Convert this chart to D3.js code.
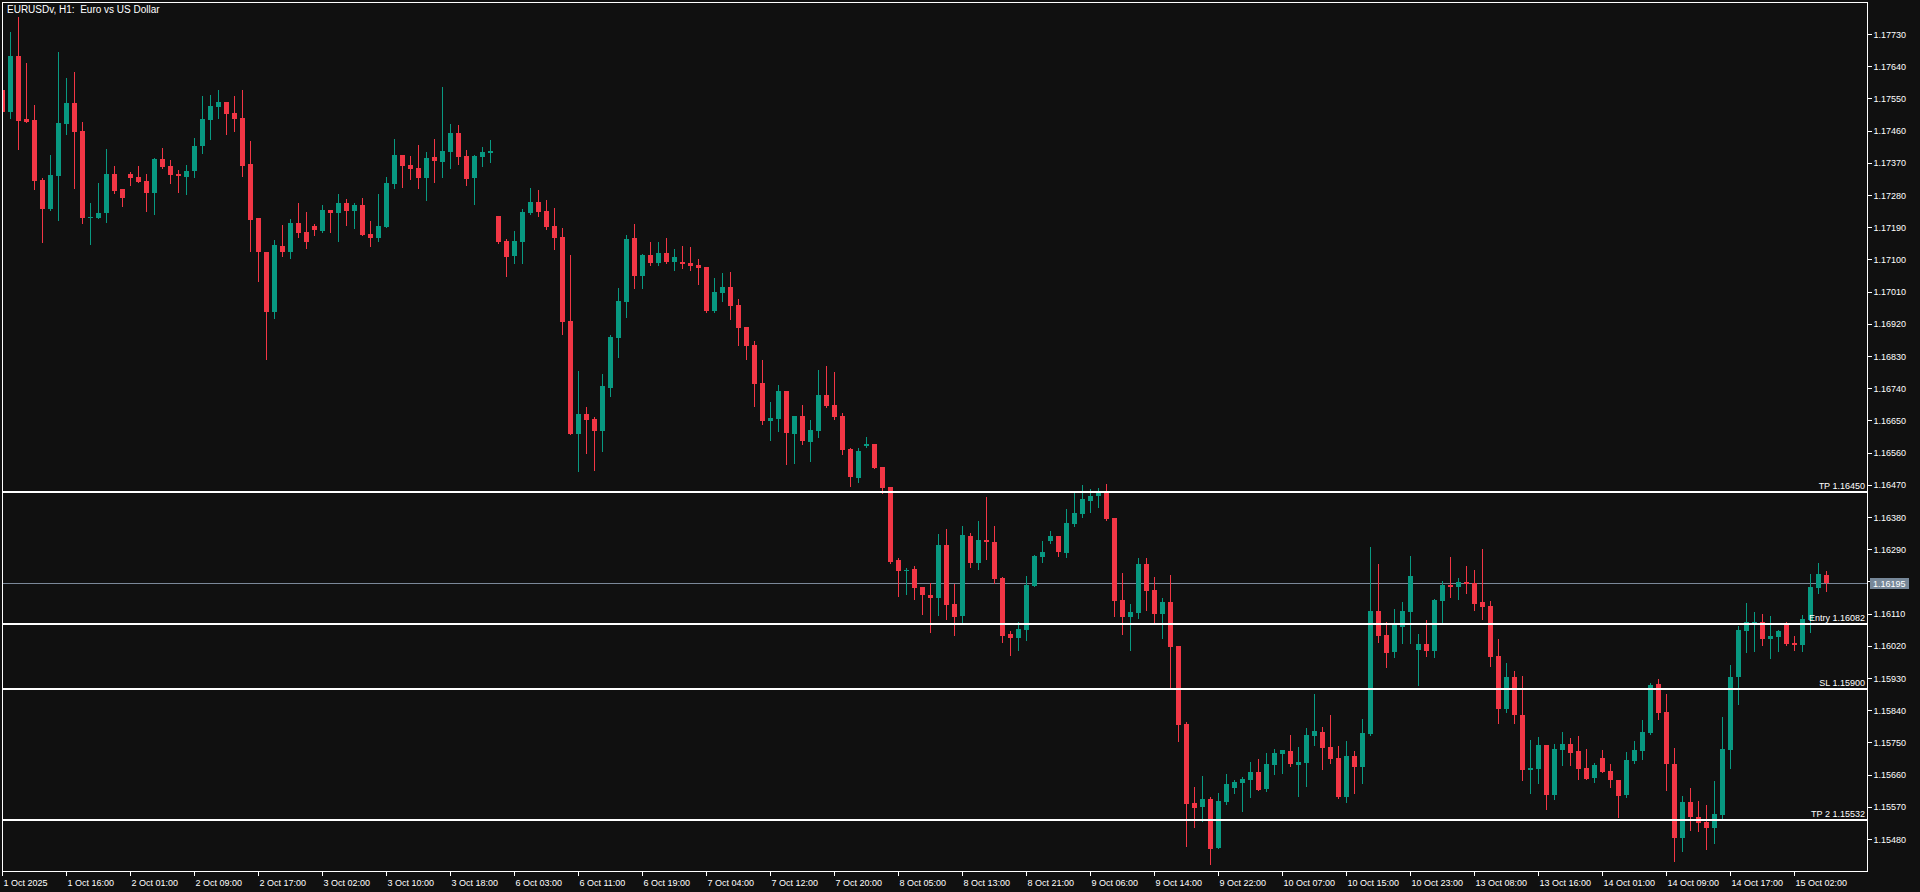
<!DOCTYPE html>
<html><head><meta charset="utf-8">
<script src="https://cdn.jsdelivr.net/npm/d3@7"></script>
<style>html,body{margin:0;padding:0;background:#101010;overflow:hidden}</style>
</head><body>
<script>
const title = "EURUSDv, H1:  Euro vs US Dollar";
const opens = [1.17573,1.17512,1.17668,1.17492,1.17490,1.17322,1.17241,1.17333,1.17478,1.17537,1.17459,1.17218,1.17216,1.17230,1.17339,1.17297,1.17339,1.17330,1.17319,1.17286,1.17381,1.17361,1.17339,1.17330,1.17347,1.17417,1.17490,1.17526,1.17540,1.17509,1.17495,1.17367,1.17216,1.17121,1.16953,1.17137,1.17121,1.17202,1.17177,1.17193,1.17179,1.17238,1.17230,1.17258,1.17235,1.17252,1.17171,1.17160,1.17191,1.17311,1.17392,1.17364,1.17355,1.17327,1.17386,1.17372,1.17400,1.17453,1.17389,1.17327,1.17386,1.17397,1.17221,1.17151,1.17110,1.17149,1.17230,1.17260,1.17235,1.17193,1.17163,1.16928,1.16612,1.16668,1.16654,1.16620,1.16740,1.16880,1.16981,1.17160,1.17054,1.17112,1.17090,1.17118,1.17093,1.17093,1.17090,1.17084,1.17079,1.16956,1.17006,1.17023,1.16973,1.16911,1.16861,1.16755,1.16648,1.16654,1.16732,1.16612,1.16662,1.16590,1.16620,1.16721,1.16693,1.16662,1.16570,1.16489,1.16578,1.16584,1.16520,1.16464,1.16260,1.16232,1.16235,1.16184,1.16162,1.16154,1.16302,1.16137,1.16103,1.16327,1.16251,1.16316,1.16310,1.16210,1.16053,1.16042,1.16064,1.16187,1.16268,1.16313,1.16327,1.16279,1.16360,1.16388,1.16425,1.16439,1.16450,1.16377,1.16148,1.16101,1.16112,1.16249,1.16176,1.16109,1.16142,1.16019,1.15801,1.15581,1.15569,1.15592,1.15455,1.15583,1.15622,1.15636,1.15645,1.15667,1.15620,1.15687,1.15718,1.15726,1.15687,1.15692,1.15768,1.15779,1.15737,1.15706,1.15598,1.15712,1.15681,1.15774,1.16117,1.16050,1.16003,1.16073,1.16115,1.16008,1.16025,1.16005,1.16145,1.16190,1.16184,1.16198,1.16196,1.16142,1.16131,1.15992,1.15843,1.15933,1.15827,1.15673,1.15676,1.15743,1.15603,1.15729,1.15745,1.15726,1.15678,1.15651,1.15706,1.15670,1.15645,1.15603,1.15698,1.15726,1.15776,1.15913,1.15835,1.15690,1.15483,1.15583,1.15542,1.15528,1.15511,1.15547,1.15729,1.15933,1.16061,1.16084,1.16087,1.16039,1.16045,1.16081,1.16028,1.16022,1.16092,1.16182,1.16218];
const highs = [1.17579,1.17736,1.17777,1.17649,1.17531,1.17327,1.17392,1.17680,1.17607,1.17624,1.17484,1.17258,1.17314,1.17408,1.17361,1.17297,1.17344,1.17361,1.17339,1.17383,1.17411,1.17378,1.17350,1.17364,1.17439,1.17557,1.17560,1.17573,1.17540,1.17557,1.17573,1.17431,1.17216,1.17122,1.17154,1.17196,1.17213,1.17258,1.17233,1.17199,1.17252,1.17238,1.17283,1.17269,1.17258,1.17272,1.17207,1.17283,1.17330,1.17436,1.17392,1.17389,1.17420,1.17400,1.17436,1.17582,1.17478,1.17476,1.17406,1.17392,1.17414,1.17434,1.17221,1.17157,1.17179,1.17241,1.17300,1.17294,1.17266,1.17244,1.17188,1.17112,1.16788,1.16687,1.16660,1.16780,1.16889,1.17020,1.17168,1.17199,1.17115,1.17149,1.17149,1.17160,1.17129,1.17137,1.17135,1.17101,1.17079,1.17048,1.17062,1.17065,1.16989,1.16911,1.16872,1.16819,1.16701,1.16749,1.16732,1.16662,1.16693,1.16651,1.16791,1.16802,1.16785,1.16671,1.16573,1.16573,1.16604,1.16584,1.16520,1.16464,1.16265,1.16237,1.16243,1.16184,1.16196,1.16333,1.16346,1.16193,1.16355,1.16335,1.16369,1.16436,1.16355,1.16212,1.16061,1.16087,1.16215,1.16274,1.16313,1.16341,1.16327,1.16402,1.16447,1.16469,1.16458,1.16461,1.16472,1.16377,1.16224,1.16137,1.16265,1.16265,1.16212,1.16154,1.16218,1.16019,1.15807,1.15625,1.15656,1.15597,1.15609,1.15662,1.15645,1.15653,1.15695,1.15704,1.15720,1.15731,1.15729,1.15771,1.15737,1.15790,1.15885,1.15793,1.15827,1.15740,1.15754,1.15726,1.15815,1.16296,1.16249,1.16087,1.16123,1.16142,1.16271,1.16053,1.16092,1.16151,1.16201,1.16268,1.16210,1.16243,1.16232,1.16291,1.16145,1.16039,1.15972,1.15950,1.15936,1.15757,1.15765,1.15743,1.15745,1.15779,1.15762,1.15768,1.15731,1.15692,1.15729,1.15690,1.15645,1.15723,1.15754,1.15813,1.15916,1.15927,1.15885,1.15734,1.15600,1.15622,1.15586,1.15575,1.15642,1.15821,1.15966,1.16075,1.16140,1.16115,1.16109,1.16103,1.16064,1.16087,1.16047,1.16106,1.16221,1.16251,1.16229];
const lows = [1.17509,1.17495,1.17408,1.17484,1.17297,1.17149,1.17238,1.17210,1.17450,1.17300,1.17202,1.17143,1.17215,1.17204,1.17286,1.17249,1.17308,1.17316,1.17235,1.17227,1.17355,1.17314,1.17288,1.17283,1.17330,1.17397,1.17436,1.17495,1.17450,1.17459,1.17333,1.17124,1.17040,1.16822,1.16936,1.17110,1.17104,1.17163,1.17132,1.17168,1.17177,1.17177,1.17151,1.17196,1.17188,1.17168,1.17137,1.17151,1.17191,1.17300,1.17302,1.17325,1.17300,1.17266,1.17316,1.17330,1.17355,1.17367,1.17308,1.17255,1.17361,1.17372,1.17146,1.17054,1.17090,1.17090,1.17227,1.17221,1.17185,1.17129,1.16892,1.16612,1.16509,1.16559,1.16511,1.16564,1.16718,1.16827,1.16939,1.17020,1.17020,1.17084,1.17084,1.17090,1.17070,1.17076,1.17070,1.17031,1.16953,1.16953,1.16984,1.16933,1.16861,1.16822,1.16690,1.16640,1.16595,1.16620,1.16528,1.16531,1.16584,1.16537,1.16604,1.16687,1.16654,1.16556,1.16467,1.16478,1.16576,1.16517,1.16447,1.16251,1.16159,1.16165,1.16151,1.16109,1.16059,1.16106,1.16095,1.16050,1.16081,1.16240,1.16235,1.16263,1.16196,1.16031,1.15994,1.16008,1.16036,1.16187,1.16254,1.16307,1.16271,1.16268,1.16355,1.16380,1.16394,1.16408,1.16372,1.16103,1.16053,1.16008,1.16098,1.16120,1.16084,1.16042,1.15905,1.15754,1.15460,1.15514,1.15530,1.15410,1.15455,1.15578,1.15609,1.15558,1.15597,1.15617,1.15614,1.15662,1.15665,1.15684,1.15600,1.15628,1.15743,1.15676,1.15692,1.15595,1.15583,1.15609,1.15636,1.15771,1.16031,1.15961,1.15989,1.16028,1.16028,1.15910,1.15992,1.15989,1.16087,1.16156,1.16151,1.16168,1.16120,1.16095,1.15964,1.15804,1.15835,1.15804,1.15645,1.15609,1.15636,1.15564,1.15592,1.15687,1.15687,1.15648,1.15648,1.15639,1.15667,1.15625,1.15542,1.15597,1.15692,1.15704,1.15774,1.15815,1.15617,1.15418,1.15446,1.15505,1.15502,1.15452,1.15469,1.15533,1.15678,1.15857,1.16003,1.16005,1.16022,1.15986,1.16005,1.16022,1.16008,1.16005,1.16059,1.16168,1.16173];
const closes = [1.17512,1.17668,1.17487,1.17484,1.17319,1.17241,1.17336,1.17481,1.17537,1.17456,1.17216,1.17219,1.17230,1.17339,1.17291,1.17272,1.17327,1.17316,1.17286,1.17381,1.17358,1.17336,1.17333,1.17347,1.17417,1.17492,1.17529,1.17540,1.17506,1.17492,1.17361,1.17210,1.17121,1.16953,1.17140,1.17121,1.17202,1.17174,1.17149,1.17182,1.17238,1.17230,1.17258,1.17235,1.17252,1.17168,1.17160,1.17193,1.17314,1.17392,1.17361,1.17353,1.17327,1.17383,1.17375,1.17403,1.17453,1.17386,1.17325,1.17389,1.17400,1.17403,1.17149,1.17107,1.17151,1.17233,1.17260,1.17233,1.17191,1.17160,1.16925,1.16612,1.16668,1.16651,1.16620,1.16746,1.16883,1.16984,1.17157,1.17054,1.17112,1.17090,1.17118,1.17093,1.17107,1.17087,1.17082,1.17076,1.16956,1.17009,1.17023,1.16970,1.16908,1.16858,1.16752,1.16648,1.16657,1.16732,1.16615,1.16662,1.16592,1.16623,1.16721,1.16690,1.16660,1.16567,1.16492,1.16564,1.16584,1.16517,1.16461,1.16254,1.16229,1.16232,1.16182,1.16162,1.16154,1.16302,1.16134,1.16101,1.16330,1.16251,1.16316,1.16310,1.16207,1.16047,1.16042,1.16067,1.16190,1.16271,1.16282,1.16327,1.16282,1.16363,1.16391,1.16430,1.16439,1.16447,1.16374,1.16145,1.16101,1.16115,1.16249,1.16173,1.16109,1.16142,1.16017,1.15799,1.15578,1.15567,1.15592,1.15452,1.15586,1.15634,1.15639,1.15648,1.15667,1.15617,1.15690,1.15720,1.15729,1.15690,1.15695,1.15771,1.15782,1.15734,1.15704,1.15598,1.15712,1.15681,1.15776,1.16117,1.16047,1.16000,1.16078,1.16117,1.16215,1.16025,1.16005,1.16148,1.16190,1.16184,1.16198,1.16193,1.16137,1.16128,1.15989,1.15843,1.15933,1.15827,1.15673,1.15678,1.15743,1.15603,1.15731,1.15745,1.15720,1.15676,1.15648,1.15687,1.15667,1.15645,1.15600,1.15701,1.15729,1.15779,1.15910,1.15832,1.15690,1.15483,1.15583,1.15542,1.15525,1.15511,1.15550,1.15731,1.15933,1.16064,1.16087,1.16087,1.16039,1.16047,1.16061,1.16025,1.16022,1.16095,1.16184,1.16221,1.16196];
const timeLabels = ["1 Oct 2025","1 Oct 16:00","2 Oct 01:00","2 Oct 09:00","2 Oct 17:00","3 Oct 02:00","3 Oct 10:00","3 Oct 18:00","6 Oct 03:00","6 Oct 11:00","6 Oct 19:00","7 Oct 04:00","7 Oct 12:00","7 Oct 20:00","8 Oct 05:00","8 Oct 13:00","8 Oct 21:00","9 Oct 06:00","9 Oct 14:00","9 Oct 22:00","10 Oct 07:00","10 Oct 15:00","10 Oct 23:00","13 Oct 08:00","13 Oct 16:00","14 Oct 01:00","14 Oct 09:00","14 Oct 17:00","15 Oct 02:00"];
const barsPerLabel = 8;
const priceTicks = [1.15480,1.15570,1.15660,1.15750,1.15840,1.15930,1.16020,1.16110,1.16200,1.16290,1.16380,1.16470,1.16560,1.16650,1.16740,1.16830,1.16920,1.17010,1.17100,1.17190,1.17280,1.17370,1.17460,1.17550,1.17640,1.17730];
const levelNames = ["TP","Entry","SL","TP 2"];
const levelPrices = [1.16450,1.16082,1.15900,1.15532];
const currentPrice = 1.16195;

const W = 1920, H = 892;
const plot = {left: 2, top: 2, right: 1867, bottom: 871};
const green = "#089981", red = "#f23645", txt = "#ffffff";
const font = "'Liberation Sans', Arial, sans-serif";

const bars = opens.map((o, i) => ({i, o, h: highs[i], l: lows[i], c: closes[i]}));

const svg = d3.select("body").append("svg").attr("width", W).attr("height", H)
  .style("display", "block").attr("shape-rendering", "crispEdges");
svg.append("rect").attr("width", W).attr("height", H).attr("fill", "#101010");

const x = d3.scaleLinear().domain([0, bars.length - 1]).range([2.5, 2.5 + 8 * (bars.length - 1)]);
const y = d3.scaleLinear().domain([1.15480, 1.17730]).range([839, 34]);

svg.append("clipPath").attr("id", "clip").append("rect")
  .attr("x", plot.left + 1).attr("y", plot.top + 1)
  .attr("width", plot.right - plot.left - 1).attr("height", plot.bottom - plot.top - 1);

const g = svg.append("g").attr("clip-path", "url(#clip)");

// current price line (behind candles)
g.append("line").attr("x1", plot.left).attr("x2", plot.right)
  .attr("y1", Math.round(y(currentPrice)) + 0.5).attr("y2", Math.round(y(currentPrice)) + 0.5)
  .attr("stroke", "#7b8899").attr("stroke-width", 1);

const cg = g.selectAll("g.bar").data(bars).join("g").attr("class", "bar")
  .attr("fill", d => d.c >= d.o ? green : red);
cg.append("rect")
  .attr("x", d => Math.floor(x(d.i)))
  .attr("width", 1)
  .attr("y", d => Math.round(y(d.h)))
  .attr("height", d => Math.max(1, Math.round(y(d.l)) - Math.round(y(d.h)) + 1));
cg.append("rect")
  .attr("x", d => Math.floor(x(d.i)) - 2)
  .attr("width", 5)
  .attr("y", d => Math.round(y(Math.max(d.o, d.c))))
  .attr("height", d => Math.max(1, Math.round(y(Math.min(d.o, d.c))) - Math.round(y(Math.max(d.o, d.c)))));

// level lines
const levels = levelNames.map((n, i) => ({n, p: levelPrices[i]}));
g.selectAll("line.level").data(levels).join("line").attr("class", "level")
  .attr("x1", plot.left).attr("x2", plot.right)
  .attr("y1", d => Math.round(y(d.p))).attr("y2", d => Math.round(y(d.p)))
  .attr("stroke", "#ffffff").attr("stroke-width", 2);
svg.selectAll("text.level").data(levels).join("text").attr("class", "level")
  .attr("x", plot.right - 2).attr("y", d => Math.round(y(d.p)) - 3)
  .attr("text-anchor", "end").attr("fill", txt)
  .style("font", `9px ${font}`)
  .text(d => `${d.n} ${d.p.toFixed(5)}`);

// frame
svg.append("rect").attr("x", plot.left + 0.5).attr("y", plot.top + 0.5)
  .attr("width", plot.right - plot.left).attr("height", plot.bottom - plot.top)
  .attr("fill", "none").attr("stroke", "#ffffff").attr("stroke-width", 1);

// right price axis
const yAxis = d3.axisRight(y).tickValues(priceTicks).tickFormat(d3.format(".5f")).tickSize(4).tickPadding(2);
const ya = svg.append("g").attr("transform", `translate(${plot.right + 0.5},0)`).call(yAxis);
ya.select(".domain").remove();
ya.selectAll("line").attr("stroke", "#ffffff");
ya.selectAll("text").attr("fill", txt).style("font", `9px ${font}`).attr("dy", "0.35em");

// current price tag
const cy = Math.round(y(currentPrice));
svg.append("rect").attr("x", 1870).attr("y", cy - 5).attr("width", 39).attr("height", 11).attr("fill", "#778899");
svg.append("text").attr("x", 1873).attr("y", cy + 4).attr("fill", "#ffffff")
  .style("font", `9px ${font}`).text(currentPrice.toFixed(5));

// bottom time axis
const tickIdx = timeLabels.map((_, j) => j * barsPerLabel);
const xAxis = d3.axisBottom(x).tickValues(tickIdx).tickFormat((d, j) => timeLabels[j]).tickSize(4).tickPadding(2);
const xa = svg.append("g").attr("transform", `translate(-0.5,${plot.bottom + 0.5})`).call(xAxis);
xa.select(".domain").remove();
xa.selectAll("line").attr("stroke", "#ffffff");
xa.selectAll("text").attr("fill", txt).style("font", `9px ${font}`)
  .attr("text-anchor", "start").attr("x", 1).attr("dy", "0.9em");

// title
svg.append("text").attr("x", 7).attr("y", 13).attr("fill", txt)
  .style("font", `10px ${font}`).style("white-space", "pre").text(title);
</script>
</body></html>
